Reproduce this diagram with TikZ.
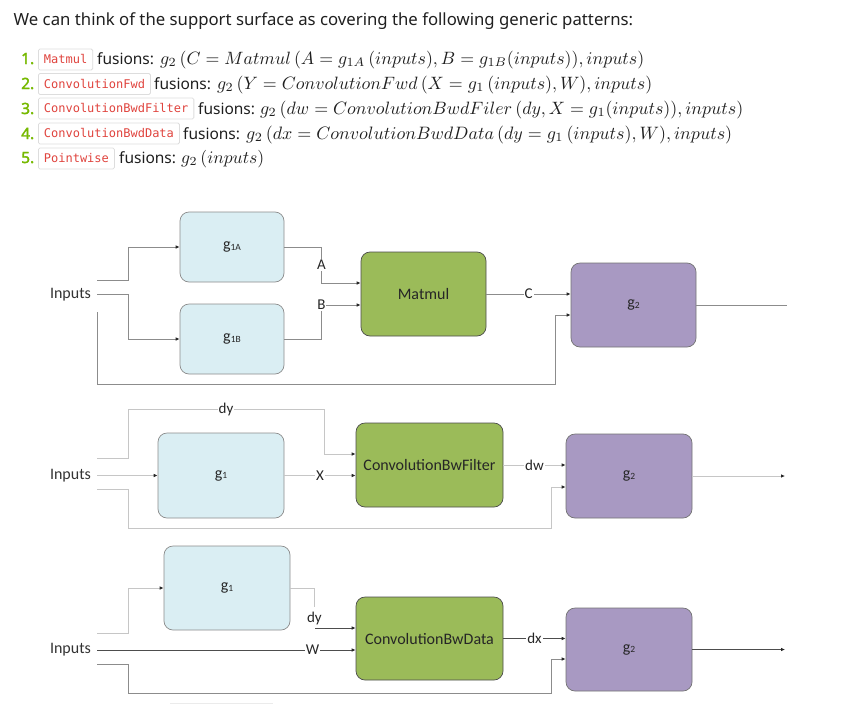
\documentclass[tikz,border=0pt]{standalone}
\usepackage[no-math]{fontspec}
\usepackage{graphicx}
\usetikzlibrary{arrows.meta,calc}
\newfontfamily\sffont{Noto Sans}
\newfontfamily\numfont[FakeBold=2.2]{Noto Sans}
\newfontfamily\codefont{DejaVu Sans Mono}
\newfontfamily\dfont{Carlito}
\definecolor{nvgreen}{HTML}{76B900}
\definecolor{codered}{HTML}{E0443E}
\definecolor{codebd}{HTML}{DDDDDD}
\definecolor{boxblue}{HTML}{DAEEF3}
\definecolor{boxgreen}{HTML}{9BBB59}
\definecolor{boxpurple}{HTML}{A899C2}
\definecolor{txt}{HTML}{1F1F1F}
\definecolor{ldark}{HTML}{4D4D4D}
\definecolor{lmid}{HTML}{8C8C8C}
\definecolor{llight}{HTML}{C6C6C6}
\newcommand\gsb[1]{g\raisebox{-0.6pt}{\fontsize{9.5}{10}\selectfont #1}}
\begin{document}
\begin{tikzpicture}[x=1pt,y=-1pt,
  num/.style={anchor=base west,inner sep=0,text=nvgreen,font=\numfont\bfseries\fontsize{15.5}{18}\selectfont},
  codebox/.style={draw=codebd,fill=white,line width=0.8pt,rounded corners=1.5pt,anchor=west,inner xsep=5.5pt,inner ysep=0pt,minimum height=21pt,text height=9.5pt,text depth=1.5pt,text=codered,font=\codefont\fontsize{12}{14}\selectfont},
  plain/.style={anchor=base west,inner sep=0,text=txt,font=\sffont\fontsize{15.5}{18}\selectfont},
  mth/.style={anchor=base west,inner sep=0,text=txt},
  blk/.style={rounded corners=9pt,line width=0.7pt,inner sep=0,text=black!85,font=\dfont\fontsize{16}{18}\selectfont},
  bbox/.style={blk,fill=boxblue,draw=black!45},
  gbox/.style={blk,fill=boxgreen,draw=black!70},
  pbox/.style={blk,fill=boxpurple,draw=black!55},
  lbl/.style={fill=white,inner sep=1pt,text=black!85,font=\dfont\fontsize{15}{16}\selectfont},
  inlbl/.style={inner sep=0,text=black!80,font=\dfont\fontsize{16}{18}\selectfont},
  ln1/.style={draw=lmid,line width=0.8pt},
  ln2/.style={draw=llight,line width=0.8pt},
  ln3/.style={draw=ldark,line width=0.8pt},
  arr/.style={-{Latex[length=4pt,width=3.6pt,color=black!85]}},
  rarr/.style={{Latex[length=4pt,width=3.6pt,color=black!85]}-},
]
\useasboundingbox (0,0) rectangle (842,704);
\fill[white] (0,0) rectangle (842,704);

% ---------- text ----------
\node[anchor=base west,inner sep=0,text=txt] (intro) at (13.5,25)
  {\resizebox{619.5pt}{!}{\sffont\fontsize{15.5}{18}\selectfont We can think of the support surface as covering the following generic patterns:}};

\node[num] (n1) at (21,64) {1.};
\node[codebox] (c1) at (38,59.5) {Matmul};
\node[plain] (f1) at (97,64) {fusions:};
\node[mth] (m1) at (160,64) {\resizebox{484pt}{!}{$g_2\,(C=Matmul\,(A=g_{1A}\,(inputs),B=g_{1B}(inputs)),inputs)$}};

\node[num] (n2) at (21,89) {2.};
\node[codebox] (c2) at (38,84) {ConvolutionFwd};
\node[plain] (f2) at (154,89) {fusions:};
\node[mth] (m2) at (217,89) {\resizebox{435pt}{!}{$g_2\,(Y=ConvolutionFwd\,(X=g_1\,(inputs),W),inputs)$}};

\node[num] (n3) at (21,114) {3.};
\node[codebox] (c3) at (38,108.5) {ConvolutionBwdFilter};
\node[plain] (f3) at (198,114) {fusions:};
\node[mth] (m3) at (260,114) {\resizebox{483pt}{!}{$g_2\,(dw=ConvolutionBwdFiler\,(dy,X=g_1(inputs)),inputs)$}};

\node[num] (n4) at (21,139) {4.};
\node[codebox] (c4) at (38,133.5) {ConvolutionBwdData};
\node[plain] (f4) at (183,139) {fusions:};
\node[mth] (m4) at (246,139) {\resizebox{486pt}{!}{$g_2\,(dx=ConvolutionBwdData\,(dy=g_1\,(inputs),W),inputs)$}};

\node[num] (n5) at (21,163) {5.};
\node[codebox] (c5) at (38,158.5) {Pointwise};
\node[plain] (f5) at (119,163) {fusions:};
\node[mth] (m5) at (181,163) {\resizebox{83pt}{!}{$g_2\,(inputs)$}};

% ---------- diagram 1: Matmul ----------
\node[inlbl] (in1) at (70.5,295) {Inputs};
\node[bbox,minimum width=104pt,minimum height=70pt] (g1A) at (232,247) {\gsb{1A}};
\node[bbox,minimum width=104pt,minimum height=70pt] (g1B) at (232,339) {\gsb{1B}};
\node[gbox,minimum width=125pt,minimum height=84pt] (mm) at (423.5,294) {Matmul};
\node[pbox,minimum width=125pt,minimum height=84pt] (g2a) at (633.5,305) {\gsb{2}};
\coordinate (s1a) at (97,280);
\coordinate (s1b) at (97,294);
\coordinate (s1c) at (97,312);
\coordinate (o1) at (787,305);
\draw[ln1,arr] (s1a) -- ++(31,0) |- (g1A.west);
\draw[ln1,arr] (s1b) -- ++(31,0) |- (g1B.west);
\draw[ln1,arr] (s1c) |- ++(458,72) |- ([yshift=-10pt]g2a.west);
\draw[ln1,arr] (g1A.east) -- ++(37,0) -- node[lbl]{A} ++(0,36) -- ([yshift=11pt]mm.west);
\draw[ln1,arr] (g1B.east) -- ++(37,0) -- ++(0,-34) node[lbl]{B} -- ([yshift=-11pt]mm.west);
\draw[ln1,arr] (mm.east) -- node[lbl]{C} (mm.east -| g2a.west);
\draw[ln1] (g2a.east) -- (o1);

% ---------- diagram 2: ConvolutionBwFilter ----------
\node[inlbl] (in2) at (70.5,476) {Inputs};
\node[bbox,minimum width=126pt,minimum height=85pt] (g1m) at (221,475.5) {\gsb{1}};
\node[gbox,minimum width=147pt,minimum height=84pt] (bwf) at (429.5,465) {ConvolutionBwFilter};
\node[pbox,minimum width=126pt,minimum height=84pt] (g2b) at (629,476) {\gsb{2}};
\coordinate (s2a) at (97,458);
\coordinate (s2b) at (97,475.5);
\coordinate (s2c) at (97,489);
\coordinate (o2) at (785,476);
\draw[ln2,arr] (s2a) -- ++(31,0) -- ++(0,-49) -- node[lbl]{dy} ++(196,0) |- ([yshift=11pt]bwf.west);
\draw[ln2,arr] (s2b) -- (g1m.west);
\draw[ln2,arr] (g1m.east) -- node[lbl]{X} (g1m.east -| bwf.west);
\draw[ln2,arr] (s2c) -- ++(31,0) |- ++(423,39) |- ([yshift=-11pt]g2b.west);
\draw[ln2,arr] (bwf.east) -- node[lbl]{dw} (bwf.east -| g2b.west);
\draw[ln2,arr] (g2b.east) -- (o2);

% ---------- diagram 3: ConvolutionBwData ----------
\node[inlbl] (in3) at (70.5,650) {Inputs};
\node[bbox,minimum width=126pt,minimum height=84pt] (g1c) at (227,588) {\gsb{1}};
\node[gbox,minimum width=147pt,minimum height=83pt] (bwd) at (429.5,638.5) {ConvolutionBwData};
\node[pbox,minimum width=126pt,minimum height=83pt] (g2c) at (629,649.5) {\gsb{2}};
\coordinate (s3a) at (97,633);
\coordinate (s3b) at (97,650);
\coordinate (s3c) at (97,664);
\coordinate (o3) at (785,649.5);
\draw[ln2,arr] (s3a) -- ++(31,0) |- (g1c.west);
\draw[ln2] (g1c.east) -- ++(24,0) coordinate (k3) -- ++(0,19);
\node[lbl,fill=none] (dy3) at ($(k3)+(0,30)$) {dy};
\draw[ln3,rarr] ([yshift=10.5pt]bwd.west) -- ++(-41,0);
\draw[ln3,arr] (s3b) -- node[lbl,pos=0.833]{W} ([yshift=-11.5pt]bwd.west);
\draw[ln1,arr] (s3c) -- ++(31,0) |- ++(423,29) |- ([yshift=-9.5pt]g2c.west);
\draw[ln3,arr] (bwd.east) -- node[lbl]{dx} (bwd.east -| g2c.west);
\draw[ln3,arr] (g2c.east) -- (o3);

\coordinate (fa) at (170,703);
\coordinate (fb) at (273,703);
\draw[draw=black!8,line width=1pt] (fa) -- (fb);
\end{tikzpicture}
\end{document}
